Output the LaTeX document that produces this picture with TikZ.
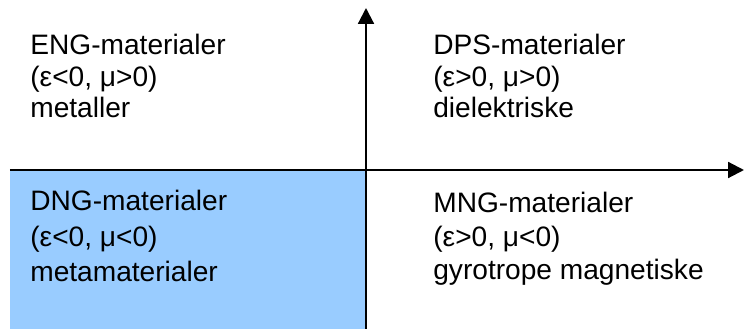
\documentclass[tikz,border=0pt]{standalone}
\usepackage{fontspec}
\setmainfont{Liberation Sans}
\usepackage{xcolor}
\usetikzlibrary{arrows.meta}

\definecolor{dngblue}{HTML}{99CCFF}

\begin{document}
\begin{tikzpicture}[>={Triangle[length=9pt,width=9pt]},
  txt/.style={anchor=base west, inner sep=0pt, font=\fontsize{16}{18}\selectfont}]
\useasboundingbox (0,0) rectangle (14.88,6.58);

% ===== DNG-omraade =====
\fill[dngblue] (0.2,0) rectangle (7.32,3.18);

% ===== akser =====
\coordinate (O) at (7.32,3.18);
\draw[->, line width=1.2pt] (0.2,3.18) -- (14.88,3.18);
\draw[->, line width=1.2pt] (7.32,0) -- (7.32,6.42);

% ===== ENG (oeverst til venstre) =====
\node[txt] (eng1) at (0.6,5.48) {ENG-materialer};
\node[txt] (eng2) at (0.6,4.84) {(ε<0, μ>0)};
\node[txt] (eng3) at (0.6,4.22) {metaller};

% ===== DPS (oeverst til hoejre) =====
\node[txt] (dps1) at (8.66,5.48) {DPS-materialer};
\node[txt] (dps2) at (8.66,4.84) {(ε>0, μ>0)};
\node[txt] (dps3) at (8.66,4.22) {dielektriske};

% ===== DNG (nederst til venstre) =====
\node[txt] (dng1) at (0.6,2.36) {DNG-materialer};
\node[txt] (dng2) at (0.6,1.64) {(ε<0, μ<0)};
\node[txt] (dng3) at (0.6,0.94) {metamaterialer};

% ===== MNG (nederst til hoejre) =====
\node[txt] (mng1) at (8.66,2.32) {MNG-materialer};
\node[txt] (mng2) at (8.66,1.64) {(ε>0, μ<0)};
\node[txt] (mng3) at (8.66,0.98) {gyrotrope magnetiske};
\end{tikzpicture}
\end{document}
